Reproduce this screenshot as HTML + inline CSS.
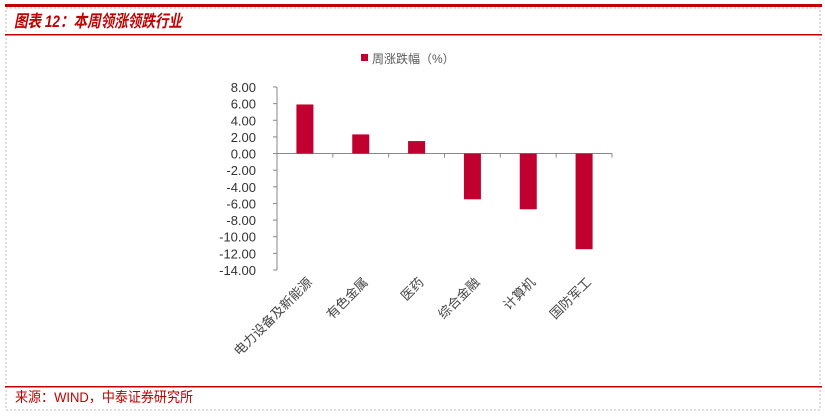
<!DOCTYPE html>
<html><head><meta charset="utf-8"><style>
body{margin:0;width:825px;height:414px;background:#fff;overflow:hidden;font-family:"Liberation Sans","Noto Sans CJK SC",sans-serif}
</style></head><body>
<svg width="825" height="414" xmlns="http://www.w3.org/2000/svg">
<rect x="6" y="8" width="814" height="402" fill="none" stroke="#bbb" stroke-dasharray="2,2"/>
<rect x="5" y="4" width="817" height="3" fill="#c00000"/>
<text x="14" y="27" font-size="17" font-weight="bold" font-style="italic" fill="#c00000" textLength="168" lengthAdjust="spacingAndGlyphs" font-family="Liberation Sans,Noto Sans CJK SC,sans-serif">图表 12：本周领涨领跌行业</text>
<rect x="5" y="34" width="817" height="1.5" fill="#c00000"/>
<rect x="5" y="386" width="817" height="1.5" fill="#c00000"/>
<text x="15" y="402" font-size="14" fill="#c00000" textLength="178" lengthAdjust="spacingAndGlyphs">来源：WIND，中泰证券研究所</text>
<g>
<rect x="361" y="54" width="7" height="7" fill="#c0002e"/>
<text x="372" y="63" font-size="12" fill="#595959">周涨跌幅（%）</text>
</g>
<g id="plot"></g>
</svg>
<script>
const categories=["电力设备及新能源","有色金属","医药","综合金融","计算机","国防军工"];
const values=[5.9,2.3,1.5,-5.5,-6.7,-11.5];
const yTicks=[8,6,4,2,0,-2,-4,-6,-8,-10,-12,-14];
const tickLabels=["8.00","6.00","4.00","2.00","0.00","-2.00","-4.00","-6.00","-8.00","-10.00","-12.00","-14.00"];
const NS="http://www.w3.org/2000/svg";
const g=document.getElementById('plot');
const x0=277,x1=612,yTop=87,yBot=270,vMax=8,vMin=-14;
function y(v){return yTop+(vMax-v)/(vMax-vMin)*(yBot-yTop);}
const bw=(x1-x0)/categories.length;
function xc(i){return x0+bw*(i+0.5);}
function el(t,a){const e=document.createElementNS(NS,t);for(const k in a)e.setAttribute(k,a[k]);g.appendChild(e);return e;}
const ax=el('line',{x1:x0,x2:x0,y1:yTop,y2:yBot,stroke:'#888'});


yTicks.forEach((v,i)=>{
 const tk=el('line',{x1:x0-4,x2:x0,y1:y(v),y2:y(v),stroke:'#888'});
 
 
 const t=el('text',{x:x0-21,y:y(v)+5,'font-size':13,fill:'#333','text-anchor':'end'});
 t.textContent=tickLabels[i];
 
 
});
const zl=el('line',{x1:x0,x2:x1,y1:y(0),y2:y(0),stroke:'#888'});


for(let i=1;i<=categories.length;i++){
 const tk=el('line',{x1:x0+bw*i,x2:x0+bw*i,y1:y(0),y2:y(0)+4,stroke:'#888'});
 
 
}
values.forEach((v,i)=>{
 const top=Math.min(y(v),y(0)),h=Math.abs(y(v)-y(0));
 const r=el('rect',{x:xc(i)-8.5,y:top,width:17,height:h,fill:'#c0002e'});
 
 
 const t=el('text',{x:0,y:0,'font-size':13,fill:'#444','text-anchor':'end',transform:`translate(${xc(i)+8},${283}) rotate(-45)`});
 t.textContent=categories[i];
 
 
});
</script>
</body></html>
